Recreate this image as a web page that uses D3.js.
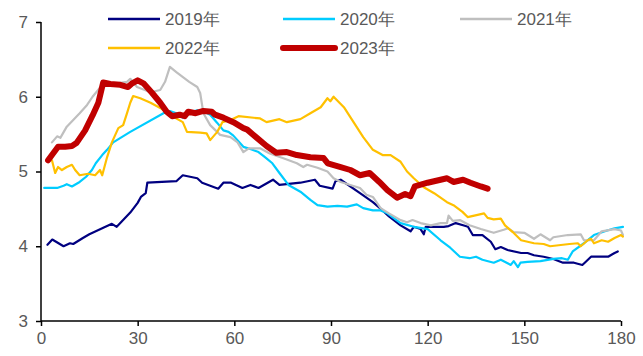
<!DOCTYPE html>
<meta charset="utf-8">
<style>
  body { margin: 0; background: #fff; }
  svg text { font-family: "Liberation Sans", Arial, sans-serif; fill: #595959; }
</style>
<div id="container"></div>
<script src="https://cdn.jsdelivr.net/npm/d3@7"></script>
<script>
// series: [day, value]
const s2019 = [[2,4.02],[3.5,4.09],[7,4.0],[9,4.04],[10,4.03],[13,4.11],[15,4.16],[18,4.22],[22,4.3],[23.5,4.26],[27.7,4.45],[30,4.58],[31,4.66],[32.5,4.71],[33,4.85],[42,4.87],[44,4.95],[48.5,4.91],[50,4.85],[55,4.77],[56.6,4.85],[59,4.85],[62.5,4.78],[65,4.82],[67.5,4.78],[72,4.89],[74,4.82],[80.5,4.85],[85,4.89],[86.5,4.81],[90.5,4.77],[91.4,4.87],[93,4.89],[99,4.71],[103,4.59],[106,4.48],[108,4.4],[111.6,4.28],[114.7,4.2],[115.7,4.26],[117.8,4.23],[118.8,4.16],[119.4,4.26],[125,4.26],[126.5,4.27],[128.7,4.31],[131,4.28],[132.5,4.26],[134,4.15],[137,4.15],[139.6,4.06],[141,3.96],[142.7,3.99],[144.8,3.95],[149,3.91],[151,3.91],[153,3.88],[156,3.86],[159,3.83],[162,3.78],[165.4,3.78],[168,3.75],[169,3.79],[170.7,3.86],[176,3.86],[178,3.91],[179,3.93]];
const s2020 = [[1,4.78],[5,4.78],[7,4.81],[8,4.83],[9.6,4.8],[12,4.86],[14,4.93],[15.8,5.02],[17,5.11],[19,5.22],[20.5,5.29],[22.4,5.39],[27.7,5.53],[38,5.78],[40,5.81],[42,5.78],[44,5.72],[45,5.78],[48.5,5.82],[51.6,5.78],[52.5,5.76],[54.7,5.65],[56.6,5.55],[58.2,5.53],[59.7,5.48],[62.8,5.33],[64.3,5.31],[67.5,5.26],[69.6,5.19],[71.8,5.11],[74,4.98],[76.8,4.82],[80.5,4.73],[83.6,4.62],[85.8,4.55],[88.9,4.53],[92,4.54],[95,4.53],[98,4.56],[100,4.51],[103,4.48],[105.4,4.48],[107.5,4.44],[111.6,4.31],[115.7,4.26],[120,4.23],[124,4.08],[127,3.98],[130,3.86],[133,3.84],[135,3.86],[137,3.82],[140.5,3.78],[142.7,3.82],[145.8,3.75],[146.7,3.8],[148,3.72],[148.8,3.78],[151,3.79],[155,3.8],[159,3.83],[161.7,3.84],[163.5,3.82],[165,3.93],[168.5,4.04],[171.6,4.15],[175,4.2],[178,4.24],[180.6,4.26]];
const s2021 = [[3.4,5.39],[5,5.47],[6,5.45],[8,5.6],[10,5.69],[12,5.78],[14.3,5.89],[16,6.0],[18.3,6.12],[20.5,6.15],[23.6,6.18],[26.7,6.2],[27.7,6.24],[29.8,6.13],[34,6.06],[37,6.09],[38.5,6.2],[40,6.4],[42,6.33],[46,6.2],[48.5,6.13],[49.4,6.05],[50.4,5.78],[52.5,5.62],[55.6,5.49],[58.8,5.46],[61,5.39],[62.8,5.26],[64.5,5.31],[68,5.31],[71,5.24],[75,5.18],[79.4,5.11],[81.4,5.06],[82.6,5.09],[85.8,5.05],[88.9,5.0],[90.8,4.91],[93,4.86],[96,4.82],[99,4.78],[101,4.69],[103,4.66],[105.4,4.51],[108,4.44],[111.6,4.35],[113.6,4.32],[115.3,4.35],[117.8,4.31],[121,4.28],[124,4.31],[126,4.31],[126.5,4.41],[127.8,4.34],[130,4.35],[133,4.28],[136.5,4.23],[140.5,4.18],[143.6,4.22],[145,4.24],[146.7,4.19],[150,4.18],[153,4.1],[155,4.16],[158,4.08],[159,4.12],[163.5,4.15],[167.5,4.16],[168.5,4.08],[171.6,4.08],[174,4.2],[178,4.23],[180,4.21],[180.6,4.15]];
const s2022 = [[3.4,5.15],[4.4,4.98],[5.3,5.06],[6.5,5.02],[8,5.06],[9.6,5.09],[10.6,5.02],[12,4.95],[14.6,4.97],[16.8,4.95],[18.3,5.02],[19,4.95],[20.5,5.19],[22,5.39],[24,5.58],[25.5,5.62],[26.7,5.78],[27.7,5.92],[28.6,6.01],[30.8,5.98],[34,5.92],[37,5.85],[40,5.76],[44,5.66],[45.3,5.53],[49.4,5.52],[51.4,5.51],[52.5,5.42],[54.7,5.53],[56.3,5.66],[58.8,5.69],[61.3,5.74],[68,5.71],[70,5.66],[74,5.7],[76.3,5.66],[80.5,5.7],[83.6,5.78],[86.8,5.86],[88.9,5.98],[89.8,5.94],[90.8,6.0],[94,5.86],[97,5.66],[100,5.46],[103,5.29],[106,5.22],[108.5,5.22],[111.6,5.13],[113.6,5.0],[115.7,4.91],[118.8,4.79],[122,4.71],[126,4.59],[128,4.55],[130.8,4.46],[132.4,4.39],[135.5,4.42],[137.5,4.44],[138.6,4.38],[140.5,4.36],[142.7,4.37],[144,4.28],[146.4,4.19],[149,4.08],[151,4.06],[153,4.04],[156,4.03],[158,4.0],[160,4.01],[164,4.03],[166.6,4.04],[167.5,4.0],[169.7,4.08],[170.7,4.1],[171.6,4.04],[174,4.08],[176,4.06],[178,4.11],[180,4.15],[180.6,4.13]];
const s2023 = [[2.2,5.15],[3.4,5.22],[5.3,5.33],[7.5,5.33],[9.6,5.34],[11,5.38],[13.7,5.55],[16,5.75],[17.8,5.92],[19.3,6.19],[21.5,6.17],[24.6,6.16],[27,6.13],[28.3,6.18],[30,6.22],[31.8,6.18],[34.5,6.05],[37,5.92],[39,5.8],[40.7,5.74],[43,5.76],[44.6,5.74],[45.7,5.8],[48,5.78],[50.4,5.81],[53,5.8],[54,5.76],[56.6,5.72],[59.7,5.66],[62.8,5.58],[64,5.56],[67,5.45],[70,5.34],[73,5.25],[76.3,5.26],[79.4,5.22],[83.6,5.19],[87.7,5.18],[89,5.11],[93,5.06],[96,5.02],[99,4.95],[102,4.98],[105,4.86],[107.5,4.75],[110.5,4.65],[113,4.7],[114.7,4.67],[116,4.8],[120,4.85],[124,4.89],[126,4.91],[128,4.86],[131,4.89],[133.3,4.85],[136.5,4.8],[138.6,4.77]];

const seriesNames = ["2019年", "2020年", "2021年", "2022年", "2023年"];
const seriesData = [s2019, s2020, s2021, s2022, s2023];
const colors = ["#000080", "#00CCFF", "#BFBFBF", "#FFC000", "#C00000"];
const widths = [2.2, 2.2, 2.2, 2.2, 6];
const xTicks = [0, 30, 60, 90, 120, 150, 180];
const yTicks = [3, 4, 5, 6, 7];

const W = 643, H = 356;
const svg = d3.select("#container").append("svg")
  .attr("width", W).attr("height", H);

const x = d3.scaleLinear().domain([0, 180]).range([41, 621]);
const y = d3.scaleLinear().domain([3, 7]).range([321, 22]);

// y axis
const yAxis = svg.append("g")
  .attr("transform", "translate(41,0)")
  .call(d3.axisLeft(y).tickValues(yTicks).tickSize(5).tickPadding(8).tickFormat(d3.format("d")));
yAxis.selectAll("text").attr("font-size", 17);

// x axis
const xAxis = svg.append("g")
  .attr("transform", "translate(0,321)")
  .call(d3.axisBottom(x).tickValues(xTicks).tickSize(5).tickPadding(6));
xAxis.selectAll("text").attr("font-size", 17);

svg.selectAll(".domain, .tick line").attr("stroke", "#000").attr("stroke-width", 1.5);
svg.selectAll(".domain").attr("d", function() { return d3.select(this).attr("d"); });
yAxis.select(".domain").attr("d", "M0,321V22");
xAxis.select(".domain").attr("d", "M41,0H621");

const line = d3.line().x(d => x(d[0])).y(d => y(d[1]));

seriesData.forEach((s, i) => {
  svg.append("path")
    .datum(s)
    .attr("d", line)
    .attr("fill", "none")
    .attr("stroke", colors[i])
    .attr("stroke-width", widths[i])
    .attr("stroke-linejoin", "round")
    .attr("stroke-linecap", "round");
});

// legend
const legendPos = [[108, 19], [283, 19], [460, 19], [108, 48], [283, 48]];
seriesNames.forEach((name, i) => {
  const [lx, ly] = legendPos[i];
  const g = svg.append("g").attr("transform", `translate(${lx},${ly})`);
  g.append("line")
    .attr("x1", 0).attr("x2", 52).attr("y1", 0).attr("y2", 0)
    .attr("stroke", colors[i])
    .attr("stroke-width", i === 4 ? 6 : 2.5)
    .attr("stroke-linecap", i === 4 ? "round" : "butt");
  g.append("text")
    .attr("x", 57).attr("y", 6)
    .attr("font-size", 17)
    .text(name);
});
</script>
